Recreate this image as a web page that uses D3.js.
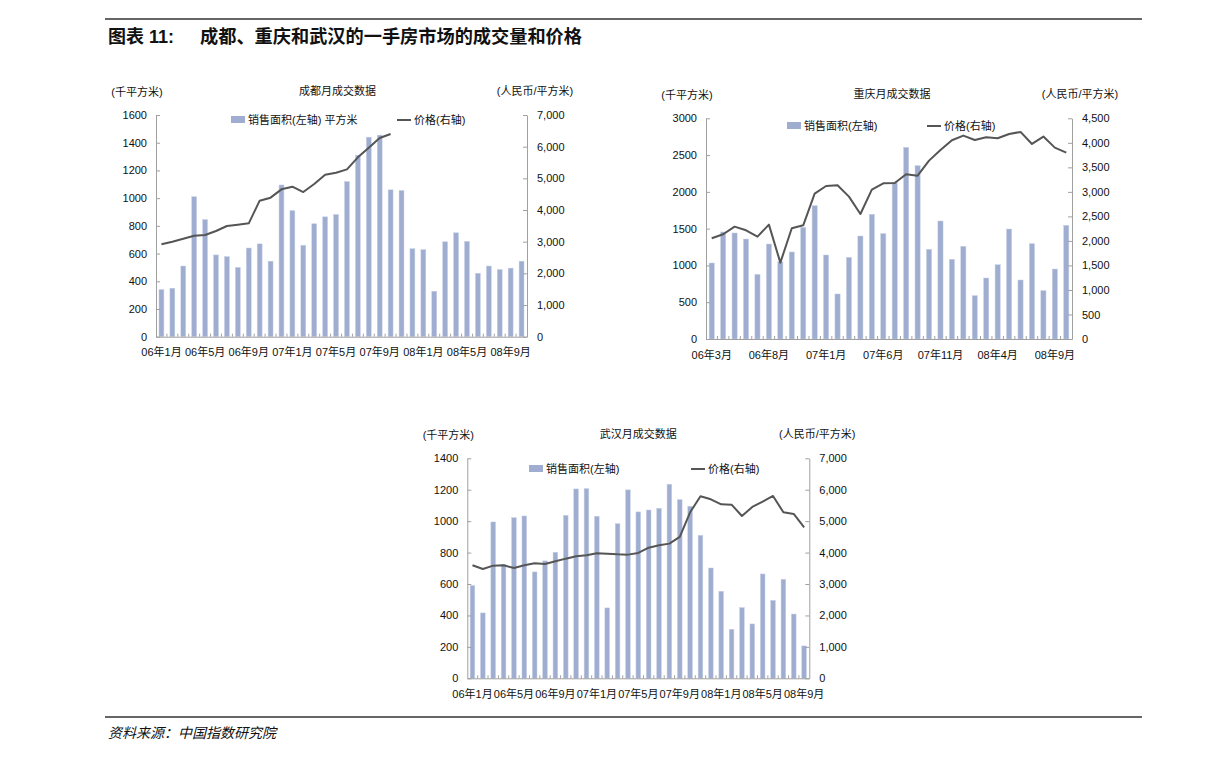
<!DOCTYPE html>
<html><head><meta charset="utf-8">
<script src="https://cdn.jsdelivr.net/npm/d3@7"></script>
<style>
html,body{margin:0;padding:0;background:#fff;}
svg{display:block;}
text{font-family:"Liberation Sans","Noto Sans CJK SC",sans-serif;fill:#111;}
</style></head>
<body>
<svg id="c" width="1224" height="761"></svg>
<script>
// ---------- Data ----------
const cdMonths = ["06年1月","06年2月","06年3月","06年4月","06年5月","06年6月","06年7月","06年8月","06年9月","06年10月","06年11月","06年12月",
  "07年1月","07年2月","07年3月","07年4月","07年5月","07年6月","07年7月","07年8月","07年9月","07年10月","07年11月","07年12月",
  "08年1月","08年2月","08年3月","08年4月","08年5月","08年6月","08年7月","08年8月","08年9月","08年10月"];
const cdArea = [340,350,510,1010,845,590,578,500,640,670,545,1095,910,660,815,865,882,1120,1310,1440,1455,1060,1055,635,628,328,685,750,688,458,510,485,495,545];
const cdPrice = [2916,3000,3095,3190,3210,3337,3495,3537,3579,4295,4390,4653,4737,4568,4821,5116,5179,5284,5663,5968,6274,6400];
const cdTicks = ["06年1月","06年5月","06年9月","07年1月","07年5月","07年9月","08年1月","08年5月","08年9月"];

const cqMonths = ["06年3月","06年4月","06年5月","06年6月","06年7月","06年8月","06年9月","06年10月","06年11月","06年12月",
  "07年1月","07年2月","07年3月","07年4月","07年5月","07年6月","07年7月","07年8月","07年9月","07年10月","07年11月","07年12月",
  "08年1月","08年2月","08年3月","08年4月","08年5月","08年6月","08年7月","08年8月","08年9月","08年10月"];
const cqArea = [1033,1455,1441,1359,879,1291,1050,1183,1518,1812,1142,612,1110,1400,1695,1432,2125,2605,2356,1219,1604,1083,1260,589,829,1010,1495,802,1296,657,951,1545];
const cqPrice = [2053,2135,2291,2216,2087,2332,1557,2257,2318,2964,3120,3134,2903,2549,3046,3175,3181,3358,3331,3637,3854,4052,4147,4058,4113,4093,4181,4222,3977,4127,3902,3800];
const cqTicks = ["06年3月","06年8月","07年1月","07年6月","07年11月","08年4月","08年9月"];

const whMonths = ["06年1月","06年2月","06年3月","06年4月","06年5月","06年6月","06年7月","06年8月","06年9月","06年10月","06年11月","06年12月",
  "07年1月","07年2月","07年3月","07年4月","07年5月","07年6月","07年7月","07年8月","07年9月","07年10月","07年11月","07年12月",
  "08年1月","08年2月","08年3月","08年4月","08年5月","08年6月","08年7月","08年8月","08年9月"];
const whArea = [590,416,995,725,1022,1033,677,747,802,1037,1205,1207,1031,448,984,1199,1059,1071,1082,1235,1137,1095,910,702,554,312,450,346,664,496,630,409,206];
const whPrice = [3595,3479,3585,3595,3510,3595,3659,3638,3722,3807,3882,3913,3977,3966,3945,3935,3988,4157,4231,4285,4497,5282,5791,5696,5536,5526,5165,5451,5621,5801,5282,5229,4804];
const whTicks = ["06年1月","06年5月","06年9月","07年1月","07年5月","07年9月","08年1月","08年5月","08年9月"];

// ---------- Drawing ----------
const svg = d3.select("#c");
const BAR = "#9eadd0", LINE = "#555555", AXIS = "#a0a0a0";

// header / footer
svg.append("line").attr("x1",105).attr("x2",1142).attr("y1",19).attr("y2",19).attr("stroke","#333").attr("stroke-width",1.4);
svg.append("text").attr("x",108).attr("y",43).attr("font-size",18).attr("font-weight","bold").text("图表 11:");
svg.append("text").attr("x",200).attr("y",43).attr("font-size",18.2).attr("font-weight","bold").text("成都、重庆和武汉的一手房市场的成交量和价格");
svg.append("line").attr("x1",105).attr("x2",1142).attr("y1",717).attr("y2",717).attr("stroke","#333").attr("stroke-width",1.4);
svg.append("text").attr("x",108).attr("y",738).attr("font-size",14).attr("font-style","italic").text("资料来源：中国指数研究院");

function drawChart(o){
  const g = svg.append("g");
  const x = d3.scaleBand().domain(o.months).range([o.x0,o.x1]).paddingInner(0.55).paddingOuter(0.275);
  const yL = d3.scaleLinear().domain([0,o.leftMax]).range([o.y1,o.y0]);
  const yR = d3.scaleLinear().domain([0,o.rightMax]).range([o.y1,o.y0]);
  const bw = x.bandwidth(), step = x.step();

  // bars
  g.append("g").selectAll("rect").data(o.area).join("rect")
    .attr("x",(d,i)=>x(o.months[i])).attr("width",bw)
    .attr("y",d=>yL(d)).attr("height",d=>yL(0)-yL(d))
    .attr("fill",BAR).attr("stroke","#c7d0e6").attr("stroke-width",0.5);

  // line
  const line = d3.line().x((d,i)=>x(o.months[i])+bw/2).y(d=>yR(d));
  g.append("path").datum(o.price).attr("d",line).attr("fill","none")
    .attr("stroke",LINE).attr("stroke-width",2).attr("stroke-linejoin","round");

  // left axis
  const la = g.append("g").attr("transform",`translate(${o.x0},0)`)
    .call(d3.axisLeft(yL).tickValues(o.leftTicks).tickFormat(d3.format("d")).tickSizeInner(-4).tickSizeOuter(0).tickPadding(9));
  // right axis
  const ra = g.append("g").attr("transform",`translate(${o.x1},0)`)
    .call(d3.axisRight(yR).tickValues(o.rightTicks).tickFormat(d3.format(",")).tickSizeInner(-4).tickSizeOuter(0).tickPadding(10));
  // bottom axis
  const ba = g.append("g").attr("transform",`translate(0,${o.y1})`)
    .call(d3.axisBottom(x).tickValues(o.ticks).tickSize(0).tickPadding(12));
  [la,ra,ba].forEach(a=>{
    a.selectAll("path,line").attr("stroke",AXIS);
    a.selectAll("text").attr("font-size",11).attr("fill","#111")
      .attr("font-family",'"Liberation Sans","Noto Sans CJK SC",sans-serif');
  });
  // category separator ticks on bottom axis (inward)
  g.append("g").selectAll("line").data(o.months.slice(1)).join("line")
    .attr("x1",d=>x(d)-(step-bw)/2).attr("x2",d=>x(d)-(step-bw)/2)
    .attr("y1",o.y1).attr("y2",o.y1-3).attr("stroke",AXIS);

  // titles
  g.append("text").attr("x",o.x0-19).attr("y",o.y0-19).attr("font-size",11).attr("text-anchor","middle").text("(千平方米)");
  g.append("text").attr("x",(o.x0+o.x1)/2-(o.titleShift||0)).attr("y",o.y0-20).attr("font-size",11).attr("text-anchor","middle").text(o.title);
  g.append("text").attr("x",o.x1+8).attr("y",o.y0-20).attr("font-size",11).attr("text-anchor","middle").text("(人民币/平方米)");

  // legend
  const ly = o.legendY;
  g.append("rect").attr("x",o.legX1).attr("y",ly-4).attr("width",14).attr("height",7).attr("fill",BAR);
  g.append("text").attr("x",o.legX1+17).attr("y",ly+4).attr("font-size",11).text(o.legText);
  g.append("line").attr("x1",o.legX2).attr("x2",o.legX2+14).attr("y1",ly).attr("y2",ly).attr("stroke",LINE).attr("stroke-width",2);
  g.append("text").attr("x",o.legX2+17).attr("y",ly+4).attr("font-size",11).text("价格(右轴)");
}

drawChart({months:cdMonths,area:cdArea,price:cdPrice,ticks:cdTicks,title:"成都月成交数据",
  x0:156,x1:527,y0:115,y1:336.7,leftMax:1600,rightMax:7000,
  leftTicks:[0,200,400,600,800,1000,1200,1400,1600],rightTicks:[0,1000,2000,3000,4000,5000,6000,7000],
  legendY:120,legX1:231,legX2:397,legText:"销售面积(左轴) 平方米",titleShift:4});

drawChart({months:cqMonths,area:cqArea,price:cqPrice,ticks:cqTicks,title:"重庆月成交数据",
  x0:706,x1:1072,y0:118.3,y1:339,leftMax:3000,rightMax:4500,
  leftTicks:[0,500,1000,1500,2000,2500,3000],rightTicks:[0,500,1000,1500,2000,2500,3000,3500,4000,4500],
  legendY:126,legX1:787,legX2:927,legText:"销售面积(左轴)",titleShift:-3});

drawChart({months:whMonths,area:whArea,price:whPrice,ticks:whTicks,title:"武汉月成交数据",
  x0:467.3,x1:809.3,y0:458.3,y1:678.3,leftMax:1400,rightMax:7000,
  leftTicks:[0,200,400,600,800,1000,1200,1400],rightTicks:[0,1000,2000,3000,4000,5000,6000,7000],
  legendY:469,legX1:529,legX2:691,legText:"销售面积(左轴)",titleShift:0});
</script>
</body></html>
